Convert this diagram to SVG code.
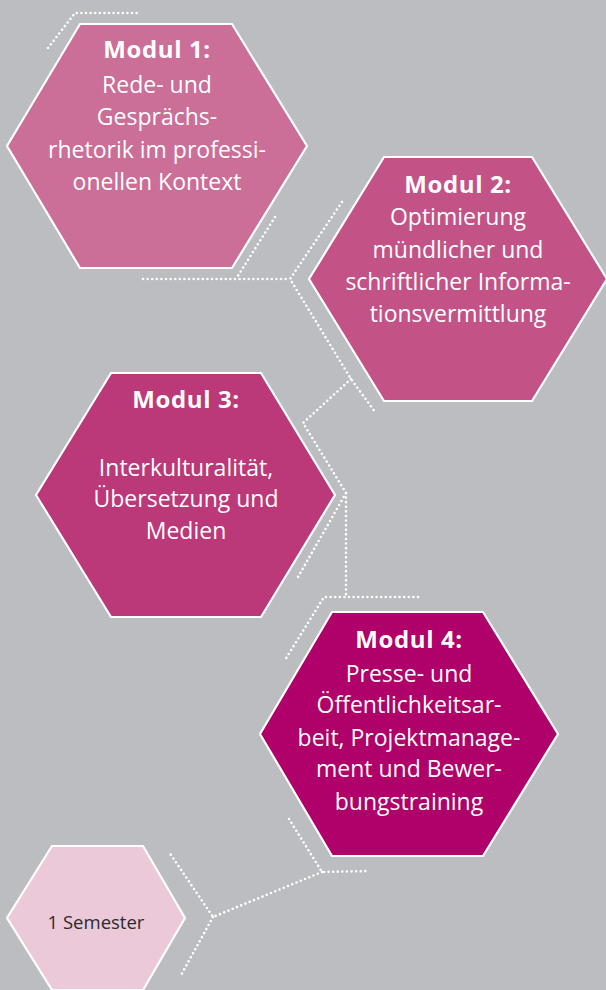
<svg xmlns="http://www.w3.org/2000/svg" width="606" height="990" viewBox="0 0 606 990">
<style>
.hex{stroke:#fff;stroke-width:2.2;stroke-linejoin:miter}
.t{font-family:"Open Sans","Noto Sans","Liberation Sans",sans-serif;fill:#fff;text-anchor:middle;font-size:23px}
.b{font-weight:bold;font-size:24px;letter-spacing:0.6px}
.dot{fill:none;stroke:#fff;stroke-width:2.6;stroke-linecap:round;stroke-dasharray:0 4.6}
</style>
<rect width="606" height="990" fill="#bcbdc0"/>
<g id="connectors">
<polyline class="dot" points="48,48 75,13 140,13"/>
<polyline class="dot" points="275,217 236,279"/>
<polyline class="dot" points="143,279 290,279"/>
<polyline class="dot" points="342,202 290,279 351,379 375,412"/>
<polyline class="dot" points="351,379 303,423 346,493 346,597"/>
<polyline class="dot" points="346,493 298,577"/>
<polyline class="dot" points="418,597 324,597 285,660"/>
<polyline class="dot" points="289,819 322,872 369,871"/>
<polyline class="dot" points="322,872 213,917 169,852"/>
<polyline class="dot" points="213,917 180,977"/>
</g>
<g id="modul1">
<polygon class="hex" fill="#cb6e98" points="80,24 232,24 307,146 232,268 80,268 7,146"/>
<text class="t b" x="157" y="58">Modul 1:</text>
<text class="t" x="157" y="93">Rede- und</text>
<text class="t" x="157" y="125">Gesprächs-</text>
<text class="t" x="157" y="158">rhetorik im professi-</text>
<text class="t" x="157" y="190">onellen Kontext</text>
</g>
<g id="modul2">
<polygon class="hex" fill="#c35287" points="384,157 532,157 607,279 532,401 384,401 309,279"/>
<text class="t b" x="458" y="193">Modul 2:</text>
<text class="t" x="458" y="225">Optimierung</text>
<text class="t" x="458" y="258">mündlicher und</text>
<text class="t" x="458" y="290">schriftlicher Informa-</text>
<text class="t" x="458" y="322">tionsvermittlung</text>
</g>
<g id="modul3">
<polygon class="hex" fill="#bb3879" points="111,373 261,373 335,495 261,617 111,617 36,495"/>
<text class="t b" x="186" y="408">Modul 3:</text>
<text class="t" x="186" y="476">Interkulturalität,</text>
<text class="t" x="186" y="507">Übersetzung und</text>
<text class="t" x="186" y="539">Medien</text>
</g>
<g id="modul4">
<polygon class="hex" fill="#b0006a" points="332,612 483,612 558,734 483,856 332,856 260,734"/>
<text class="t b" x="409" y="648">Modul 4:</text>
<text class="t" x="409" y="682">Presse- und</text>
<text class="t" x="409" y="713">Öffentlichkeitsar-</text>
<text class="t" x="409" y="746">beit, Projektmanage-</text>
<text class="t" x="409" y="777">ment und Bewer-</text>
<text class="t" x="409" y="810">bungstraining</text>
</g>
<g id="semester">
<polygon class="hex" fill="#ecc9d9" points="52,846 143,846 185,918 143,990 52,990 7,918"/>
<text class="t" x="96" y="929" style="fill:#2b2b2b;font-size:18.5px">1 Semester</text>
</g>
</svg>
